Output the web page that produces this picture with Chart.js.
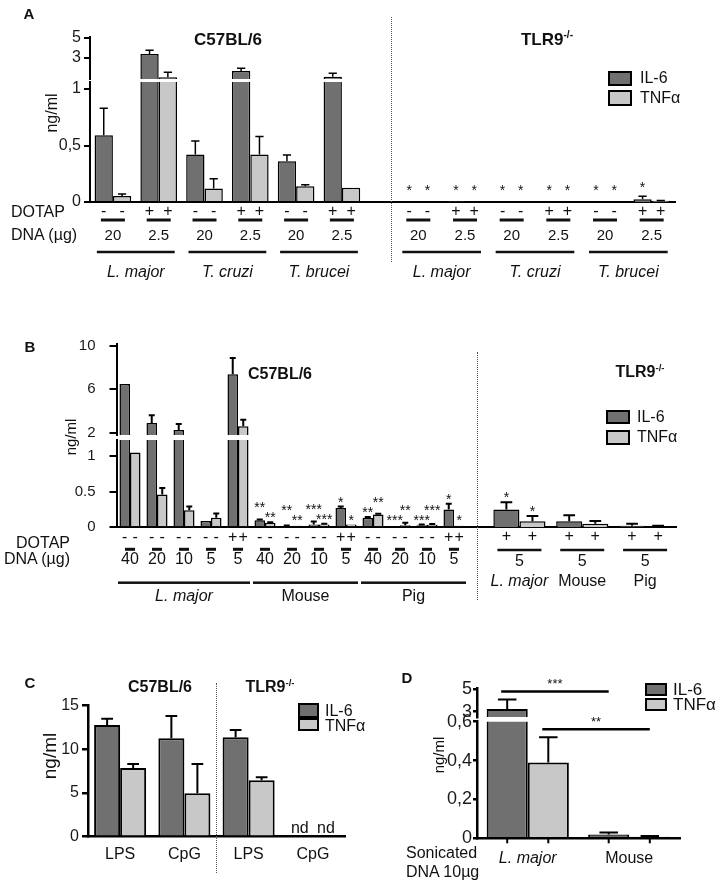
<!DOCTYPE html>
<html><head><meta charset="utf-8"><title>IL-6 / TNFα responses to parasite DNA</title>
<script src="https://cdn.jsdelivr.net/npm/chart.js@4.4.1/dist/chart.umd.min.js"></script>
<style>
html,body{margin:0;padding:0;background:#fff;}
#fig{position:relative;width:720px;height:886px;overflow:hidden;font-family:"Liberation Sans",Arial,Helvetica,sans-serif;color:#111;}
#fig canvas{position:absolute;left:0;top:0;}
.t,.tl,.tr,.rot{position:absolute;white-space:nowrap;line-height:1;}
.t{transform:translate(-50%,-50%);}
.tl{transform:translate(0,-50%);}
.tr{transform:translate(-100%,-50%);}
.rot{transform:translate(-50%,-50%) rotate(-90deg);}
.b{font-weight:bold;}
.sw{position:absolute;box-sizing:border-box;border:2.5px solid #000;}
.vd{position:absolute;width:0;border-left:1.3px dotted #555;}
sup{font-size:0.6em;vertical-align:0.6em;line-height:0;}
</style></head><body>
<div id="fig">
<canvas id="aUp" width="720" height="886"></canvas>
<canvas id="aLoL" width="720" height="886"></canvas>
<canvas id="aLoR" width="720" height="886"></canvas>
<canvas id="bUp" width="720" height="886"></canvas>
<canvas id="bLoL" width="720" height="886"></canvas>
<canvas id="bLoR" width="720" height="886"></canvas>
<canvas id="cCh" width="720" height="886"></canvas>
<canvas id="dUp" width="720" height="886"></canvas>
<canvas id="dLo" width="720" height="886"></canvas>

<!-- Panel A text -->
<div class="t b" style="left:29px;top:13px;font-size:15px">A</div>
<div class="t b" style="left:228px;top:39px;font-size:17px">C57BL/6</div>
<div class="t b" style="left:547px;top:39px;font-size:17px">TLR9<sup>-/-</sup></div>
<div class="rot" style="left:52px;top:113px;font-size:16px">ng/ml</div>
<div class="tl" style="left:11px;top:212px;font-size:16px">DOTAP</div>
<div class="tl" style="left:11px;top:235px;font-size:16px">DNA (µg)</div>
<div class="sw" style="left:608px;top:71px;width:24px;height:15px;background:#707070"></div>
<div class="sw" style="left:608px;top:90px;width:24px;height:16px;background:#c8c8c8"></div>
<div class="tl" style="left:640px;top:78px;font-size:16px">IL-6</div>
<div class="tl" style="left:640px;top:98px;font-size:16px">TNFα</div>
<div class="vd" style="left:391px;top:17px;height:245px"></div>

<!-- Panel B text -->
<div class="t b" style="left:30px;top:346px;font-size:15px">B</div>
<div class="t b" style="left:280px;top:374px;font-size:16px">C57BL/6</div>
<div class="t b" style="left:640px;top:372px;font-size:16px">TLR9<sup>-/-</sup></div>
<div class="rot" style="left:70px;top:437px;font-size:15px">ng/ml</div>
<div class="tr" style="left:70px;top:543px;font-size:16px">DOTAP</div>
<div class="tr" style="left:70px;top:559px;font-size:16px">DNA (µg)</div>
<div class="sw" style="left:606px;top:410px;width:24px;height:14px;background:#707070"></div>
<div class="sw" style="left:606px;top:430px;width:24px;height:15px;background:#c8c8c8"></div>
<div class="tl" style="left:637px;top:417px;font-size:16px">IL-6</div>
<div class="tl" style="left:637px;top:437px;font-size:16px">TNFα</div>
<div class="vd" style="left:477px;top:352px;height:248px"></div>

<!-- Panel C text -->
<div class="t b" style="left:30px;top:682px;font-size:15px">C</div>
<div class="t b" style="left:160px;top:687px;font-size:16px">C57BL/6</div>
<div class="t b" style="left:270px;top:687px;font-size:16px">TLR9<sup>-/-</sup></div>
<div class="rot" style="left:49px;top:756px;font-size:19px">ng/ml</div>
<div class="sw" style="left:298px;top:703px;width:21px;height:15px;background:#707070"></div>
<div class="sw" style="left:298px;top:718px;width:21px;height:13px;background:#c8c8c8"></div>
<div class="tl" style="left:325px;top:711px;font-size:16px">IL-6</div>
<div class="tl" style="left:325px;top:726px;font-size:16px">TNFα</div>
<div class="vd" style="left:216px;top:683px;height:190px"></div>

<!-- Panel D text -->
<div class="t b" style="left:407px;top:677px;font-size:15px">D</div>
<div class="rot" style="left:438px;top:755px;font-size:15px">ng/ml</div>
<div class="tl" style="left:406px;top:853px;font-size:16px">Sonicated</div>
<div class="tl" style="left:406px;top:872px;font-size:16px">DNA 10µg</div>
<div class="sw" style="left:645px;top:683px;width:22px;height:13px;background:#707070"></div>
<div class="sw" style="left:645px;top:698px;width:22px;height:13px;background:#c8c8c8"></div>
<div class="tl" style="left:673px;top:689px;font-size:17px">IL-6</div>
<div class="tl" style="left:673px;top:704px;font-size:17px">TNFα</div>
</div>

<script>
// ================= DATA =================
// ---- Panel A: 20 µg DNA without DOTAP / 2.5 µg DNA with DOTAP ----
const A_dotap = ['-', '+', '-', '+', '-', '+'];
const A_dna = ['20', '2.5', '20', '2.5', '20', '2.5'];
const A_species = ['L. major', 'L. major', 'T. cruzi', 'T. cruzi', 'T. brucei', 'T. brucei'];
const A_wt_il6 = [0.59, 3.4, 0.42, 1.7, 0.36, 1.13];
const A_wt_il6_err = [0.24, 0.37, 0.12, 0.27, 0.055, 0.34];
const A_wt_tnf = [0.053, 1.08, 0.12, 0.42, 0.14, 0.127];
const A_wt_tnf_err = [0.018, 0.49, 0.085, 0.16, 0.012, 0];
const A_ko_il6 = [0, 0.006, 0, 0, 0, 0.024];
const A_ko_il6_err = [0, 0, 0, 0, 0, 0.026];
const A_ko_tnf = [0, 0, 0, 0, 0, 0.01];
const A_ko_tnf_err = [0, 0, 0, 0, 0, 0.004];
const A_ko_il6_sig = ['*', '*', '*', '*', '*', '*'];
const A_ko_tnf_sig = ['*', '*', '*', '*', '*', ''];
const A_ticks_upper = [3, 5];
const A_ticks_lower = [0, 0.5, 1];

// ---- Panel B ----
const B_wt_dotap = ['-', '-', '-', '-', '+', '-', '-', '-', '+', '-', '-', '-', '+'];
const B_wt_dna = ['40', '20', '10', '5', '5', '40', '20', '10', '5', '40', '20', '10', '5'];
const B_wt_species = ['L. major', 'L. major', 'L. major', 'L. major', 'L. major', 'Mouse', 'Mouse', 'Mouse', 'Mouse', 'Pig', 'Pig', 'Pig', 'Pig'];
const B_wt_il6 = [6.5, 2.9, 2.25, 0.088, 7.4, 0.10, 0.015, 0.04, 0.27, 0.134, 0.01, 0.03, 0.25];
const B_wt_il6_err = [0, 0.7, 0.55, 0, 1.5, 0.01, 0.01, 0.04, 0.02, 0.01, 0, 0.01, 0.08];
const B_wt_tnf = [1.05, 0.46, 0.24, 0.135, 2.6, 0.065, 0.02, 0.04, 0.04, 0.18, 0.03, 0.035, 0.02];
const B_wt_tnf_err = [0, 0.09, 0.05, 0.06, 0.6, 0.005, 0, 0.01, 0, 0.01, 0.035, 0.01, 0];
const B_wt_il6_sig = ['', '', '', '', '', '**', '**', '***', '*', '**', '***', '***', '*'];
const B_wt_tnf_sig = ['', '', '', '', '', '**', '**', '***', '*', '**', '**', '***', '*'];
const B_ko_dotap = ['+', '+', '+'];
const B_ko_dna = ['5', '5', '5'];
const B_ko_species = ['L. major', 'Mouse', 'Pig'];
const B_ko_il6 = [0.25, 0.085, 0.02];
const B_ko_il6_err = [0.10, 0.085, 0.03];
const B_ko_tnf = [0.085, 0.05, 0.01];
const B_ko_tnf_err = [0.075, 0.04, 0.01];
const B_ko_il6_sig = ['*', '', ''];
const B_ko_tnf_sig = ['*', '', ''];
const B_ticks_upper = [2, 6, 10];
const B_ticks_lower = [0, 0.5, 1];

// ---- Panel C ----
const C_categories = ['LPS', 'CpG', 'LPS', 'CpG'];
const C_il6 = [12.8, 11.27, 11.38, null];
const C_il6_err = [0.7, 2.55, 0.85, null];
const C_tnf = [7.87, 4.97, 6.45, null];
const C_tnf_err = [0.45, 3.35, 0.37, null];
const C_ticks = [0, 5, 10, 15];

// ---- Panel D ----
const D_categories = ['L. major', 'Mouse'];
const D_il6 = [3.24, 0.02];
const D_il6_err = [0.86, 0.01];
const D_tnf = [0.39, 0.008];
const D_tnf_err = [0.13, 0.004];
const D_comparisons = [['IL-6', 'L. major', 'Mouse', '***'], ['TNFα', 'L. major', 'Mouse', '**']];
const D_ticks_upper = [3, 5];
const D_ticks_lower = [0, 0.2, 0.4, 0.6];

// ================= STYLE =================
const FONT = '"Liberation Sans", Arial, Helvetica, sans-serif';
const IL6_COLOR = '#707070';
const TNF_COLOR = '#c8c8c8';
const AXIS_W = 60;   // reserved width for y tick labels
const AXIS_H = 40;   // reserved height for x tick labels
Chart.defaults.font.family = FONT;
Chart.defaults.color = '#111';
const comma = v => String(v).replace('.', ',');
const isLatin = s => /^[A-Z]\. /.test(s);

function runs(arr) {
  const r = [];
  arr.forEach((v, i) => {
    if (r.length && r[r.length - 1].name === v) r[r.length - 1].end = i;
    else r.push({ name: v, start: i, end: i });
  });
  return r;
}

const DECO = {};
const decoPlugin = {
  id: 'deco',
  afterDatasetsDraw(chart) {
    const cfg = DECO[chart.canvas.id];
    if (!cfg) return;
    const ctx = chart.ctx, area = chart.chartArea, ys = chart.scales.y, xs = chart.scales.x;
    const metas = chart.data.datasets.map((ds, di) => chart.getDatasetMeta(di));
    // error bars (one-sided, upward)
    ctx.save();
    ctx.beginPath();
    ctx.rect(area.left - 30, area.top, area.right - area.left + 60, area.bottom - area.top);
    ctx.clip();
    ctx.strokeStyle = '#000';
    ctx.lineWidth = cfg.errW || 1.5;
    chart.data.datasets.forEach((ds, di) => {
      if (!ds.err) return;
      metas[di].data.forEach((bar, i) => {
        const v = ds.data[i], e = ds.err[i];
        if (v == null || !e) return;
        const y0 = ys.getPixelForValue(v), y1 = ys.getPixelForValue(v + e);
        const c = Math.max(6, bar.width * 0.45) / 2;
        ctx.beginPath();
        ctx.moveTo(bar.x, y0); ctx.lineTo(bar.x, y1);
        ctx.moveTo(bar.x - c, y1); ctx.lineTo(bar.x + c, y1);
        ctx.stroke();
      });
    });
    ctx.restore();

    ctx.save();
    ctx.fillStyle = '#111';
    ctx.strokeStyle = '#000';
    ctx.textAlign = 'center';
    ctx.textBaseline = 'middle';
    // significance stars above bars
    if (cfg.stars) {
      const st = cfg.stars;
      ctx.font = st.fs + 'px ' + FONT;
      const base = ys.getPixelForValue(0);
      const n = chart.data.labels.length;
      for (let i = 0; i < n; i++) {
        const items = [];
        chart.data.datasets.forEach((ds, di) => {
          const s = ds.sig && ds.sig[i];
          if (!s) return;
          const bar = metas[di].data[i];
          const top = (ds.data[i] || 0) + ((ds.err && ds.err[i]) || 0);
          const y = Math.min(ys.getPixelForValue(top) - st.off, base - st.minOff);
          items.push({ s, x: bar.x, y, w: ctx.measureText(s).width, top });
        });
        if (items.length === 2) {
          const [a, b] = items;
          if (Math.abs(a.x - b.x) < (a.w + b.w) / 2) {
            const hi = a.top >= b.top ? a : b, lo = hi === a ? b : a;
            hi.y = Math.min(hi.y, lo.y - st.gap);
          }
        }
        ctx.textBaseline = 'alphabetic';
        items.forEach(it => ctx.fillText(it.s, it.x, it.y + 0.58 * st.fs));
        ctx.textBaseline = 'middle';
      }
    }
    // "nd" (not detected) markers
    if (cfg.nd) {
      ctx.font = cfg.nd.fs + 'px ' + FONT;
      const base = ys.getPixelForValue(0);
      chart.data.datasets.forEach((ds, di) => {
        metas[di].data.forEach((bar, i) => {
          if (ds.data[i] == null) ctx.fillText('nd', bar.x, base - cfg.nd.off);
        });
      });
    }
    // comparison brackets
    if (cfg.sig) {
      cfg.sig.forEach(([ser, from, to, label]) => {
        const di = chart.data.datasets.findIndex(d => d.label === ser);
        const i0 = chart.data.labels.indexOf(from), i1 = chart.data.labels.indexOf(to);
        const ds = chart.data.datasets[di];
        const top = Math.max(ds.data[i0] + ds.err[i0], ds.data[i1] + ds.err[i1]);
        if (top < ys.min || top > ys.max) return;
        const y = ys.getPixelForValue(top) - 8;
        const x0 = metas[di].data[i0].x - 6, x1 = metas[di].data[i1].x;
        ctx.lineWidth = 2.5;
        ctx.beginPath(); ctx.moveTo(x0, y); ctx.lineTo(x1, y); ctx.stroke();
        ctx.font = '13px ' + FONT;
        ctx.textBaseline = 'alphabetic';
        ctx.fillText(label, (x0 + x1) / 2, y - 3);
        ctx.textBaseline = 'middle';
      });
    }
    // small tick marks under each bar
    if (cfg.barTicks) {
      ctx.lineWidth = 2;
      metas.forEach(m => m.data.forEach(bar => {
        ctx.beginPath(); ctx.moveTo(bar.x, area.bottom); ctx.lineTo(bar.x, area.bottom + cfg.barTicks); ctx.stroke();
      }));
    }
    // multi-row x labels (DOTAP signs, DNA amounts, species)
    if (cfg.xl) {
      const xl = cfg.xl;
      const gx = i => xs.getPixelForValue(i);
      const nG = xl.nums.t.length;
      ctx.font = xl.signs.fs + 'px ' + FONT;
      metas.forEach(m => m.data.forEach((bar, i) => ctx.fillText(xl.signs.t[i], bar.x, xl.signs.y)));
      for (let i = 0; i < nG; i++) {
        ctx.fillRect(gx(i) - xl.glines.w / 2, xl.glines.y - xl.glines.lw / 2, xl.glines.w, xl.glines.lw);
      }
      ctx.font = xl.nums.fs + 'px ' + FONT;
      for (let i = 0; i < nG; i++) ctx.fillText(xl.nums.t[i], gx(i), xl.nums.y);
      if (xl.spans) {
        runs(xl.spans.t).forEach(r => {
          const a = gx(r.start) - xl.spans.ext, b = gx(r.end) + xl.spans.ext;
          ctx.fillRect(a, xl.spans.y - xl.spans.lw / 2, b - a, xl.spans.lw);
          ctx.font = (isLatin(r.name) ? 'italic ' : '') + xl.names.fs + 'px ' + FONT;
          ctx.fillText(r.name, (gx(r.start) + gx(r.end)) / 2, xl.names.y);
        });
      } else {
        xl.names.t.forEach((nm, i) => {
          ctx.font = (isLatin(nm) ? 'italic ' : '') + xl.names.fs + 'px ' + FONT;
          ctx.fillText(nm, gx(i), xl.names.y);
        });
      }
    }
    ctx.restore();
  }
};

function barChart(id, o) {
  DECO[id] = o.deco || null;
  const a = o.area;
  const yTicks = o.y.ticks || [];
  const showX = o.xAxis !== false, showY = o.yAxis !== false;
  return new Chart(document.getElementById(id), {
    type: 'bar',
    data: {
      labels: o.labels,
      datasets: o.sets.map(s => ({
        label: s.label, data: s.data, err: s.err, sig: s.sig,
        backgroundColor: s.color, borderColor: '#000', borderWidth: o.bw || 1.5,
        borderSkipped: 'start', categoryPercentage: o.cat, barPercentage: 1, clip: 0
      }))
    },
    options: {
      responsive: false, animation: false, devicePixelRatio: 1, events: [],
      layout: { padding: {
        left: a.l - (showY ? AXIS_W : 0), top: a.t,
        right: 720 - a.r, bottom: 886 - a.b - (showX ? AXIS_H : 0) } },
      plugins: { legend: { display: false }, tooltip: { enabled: false } },
      scales: {
        x: {
          display: showX,
          grid: { display: false, drawTicks: false },
          border: { display: true, color: '#000', width: o.axisW || 2 },
          ticks: o.xTicks ? Object.assign({ display: true, color: '#111', autoSkip: false, maxRotation: 0, minRotation: 0 }, o.xTicks) : { display: false },
          afterFit: s => { s.height = showX ? AXIS_H : 0; }
        },
        y: {
          display: showY,
          min: o.y.min, max: o.y.max,
          grid: { display: true, drawOnChartArea: false, drawTicks: true, tickLength: o.y.tick || 6, color: '#000', lineWidth: o.axisW || 2 },
          border: { display: true, color: '#000', width: o.axisW || 2 },
          ticks: { color: '#1a1a1a', padding: o.y.pad == null ? 3 : o.y.pad, font: { size: o.y.fs || 15 }, autoSkip: false,
                   callback: v => (o.y.fmt ? o.y.fmt(v) : String(v)) },
          afterBuildTicks: s => { s.ticks = yTicks.map(v => ({ value: v })); },
          afterFit: s => { s.width = showY ? AXIS_W : 0; }
        }
      }
    },
    plugins: [decoPlugin]
  });
}

// ================= PANEL A =================
const A_labels = A_species.map((s, i) => s + ' ' + A_dna[i] + ' µg ' + A_dotap[i]);
const A_wt_sets = [
  { label: 'IL-6', data: A_wt_il6, err: A_wt_il6_err, color: IL6_COLOR },
  { label: 'TNFα', data: A_wt_tnf, err: A_wt_tnf_err, color: TNF_COLOR }
];
const A_xl = (dotap, dna, sp) => ({
  signs: { y: 212, fs: 16, t: dotap }, glines: { y: 220, w: 24, lw: 3 },
  nums: { y: 236, fs: 15, t: dna }, spans: { y: 252, lw: 2.5, ext: 16, t: sp }, names: { y: 273, fs: 16 }
});
barChart('aUp', {
  area: { l: 90, t: 37, r: 410.6, b: 79 }, labels: A_labels.concat(['']), sets: A_wt_sets, cat: 0.8,
  xAxis: false, y: { min: 0.9, max: 5.1, ticks: A_ticks_upper, fs: 16, fmt: comma }, deco: { errW: 1.5 }
});
barChart('aLoL', {
  area: { l: 90, t: 82, r: 410.6, b: 202 }, labels: A_labels.concat(['']), sets: A_wt_sets, cat: 0.8,
  y: { min: 0, max: 1.062, ticks: A_ticks_lower, fs: 16, fmt: comma },
  deco: { errW: 1.5, xl: A_xl(A_dotap, A_dna, A_species) }
});
barChart('aLoR', {
  area: { l: 395, t: 82, r: 675, b: 202 }, labels: A_labels,
  sets: [
    { label: 'IL-6', data: A_ko_il6, err: A_ko_il6_err, sig: A_ko_il6_sig, color: IL6_COLOR },
    { label: 'TNFα', data: A_ko_tnf, err: A_ko_tnf_err, sig: A_ko_tnf_sig, color: TNF_COLOR }
  ], cat: 0.78, yAxis: false,
  y: { min: 0, max: 1.062, ticks: A_ticks_lower },
  deco: { errW: 1.5, stars: { fs: 14, off: 12, minOff: 15, gap: 9 }, xl: A_xl(A_dotap, A_dna, A_species) }
});

// ================= PANEL B =================
const B_wt_labels = B_wt_species.map((s, i) => s + ' ' + B_wt_dna[i] + ' µg ' + B_wt_dotap[i]);
const B_wt_sets = [
  { label: 'IL-6', data: B_wt_il6, err: B_wt_il6_err, sig: B_wt_il6_sig, color: IL6_COLOR },
  { label: 'TNFα', data: B_wt_tnf, err: B_wt_tnf_err, sig: B_wt_tnf_sig, color: TNF_COLOR }
];
barChart('bUp', {
  area: { l: 116.5, t: 344, r: 494.5, b: 435 }, labels: B_wt_labels.concat(['']), sets: B_wt_sets, cat: 0.78,
  xAxis: false, y: { min: 1.79, max: 10.18, ticks: B_ticks_upper, fs: 15, tick: 7, pad: 14 }, deco: { errW: 2 }
});
barChart('bLoL', {
  area: { l: 116.5, t: 440, r: 494.5, b: 527.3 }, labels: B_wt_labels.concat(['']), sets: B_wt_sets, cat: 0.78,
  y: { min: 0, max: 1.224, ticks: B_ticks_lower, fs: 15, tick: 7, pad: 14 },
  deco: {
    errW: 2, stars: { fs: 14, off: 8, minOff: 10, gap: 10 },
    xl: { signs: { y: 537.7, fs: 16, t: B_wt_dotap }, glines: { y: 549.3, w: 10, lw: 3 },
          nums: { y: 560, fs: 16, t: B_wt_dna }, spans: { y: 582.7, lw: 2.5, ext: 12, t: B_wt_species },
          names: { y: 596.7, fs: 16 } }
  }
});
barChart('bLoR', {
  area: { l: 488, t: 440, r: 676.5, b: 527.3 },
  labels: B_ko_species.map((s, i) => s + ' ' + B_ko_dna[i] + ' µg ' + B_ko_dotap[i]),
  sets: [
    { label: 'IL-6', data: B_ko_il6, err: B_ko_il6_err, sig: B_ko_il6_sig, color: IL6_COLOR },
    { label: 'TNFα', data: B_ko_tnf, err: B_ko_tnf_err, sig: B_ko_tnf_sig, color: TNF_COLOR }
  ], cat: 0.83, yAxis: false,
  y: { min: 0, max: 1.224, ticks: B_ticks_lower },
  deco: {
    errW: 2, stars: { fs: 14, off: 8, minOff: 10, gap: 10 },
    xl: { signs: { y: 536.7, fs: 16, t: B_ko_dotap }, glines: { y: 550, w: 44, lw: 2.5 },
          nums: { y: 561.7, fs: 16, t: B_ko_dna }, names: { y: 581.7, fs: 16, t: B_ko_species } }
  }
});

// ================= PANEL C =================
barChart('cCh', {
  area: { l: 88, t: 705.7, r: 345, b: 836.7 }, labels: C_categories,
  sets: [
    { label: 'IL-6', data: C_il6, err: C_il6_err, color: IL6_COLOR },
    { label: 'TNFα', data: C_tnf, err: C_tnf_err, color: TNF_COLOR }
  ], cat: 0.81, bw: 2, axisW: 2.5,
  xTicks: { padding: 8, font: { size: 16 } },
  y: { min: 0, max: 15, ticks: C_ticks, fs: 16, tick: 6, pad: 3 },
  deco: { errW: 2, nd: { fs: 16, off: 8 } }
});

// ================= PANEL D =================
const D_sets = [
  { label: 'IL-6', data: D_il6, err: D_il6_err, color: IL6_COLOR },
  { label: 'TNFα', data: D_tnf, err: D_tnf_err, color: TNF_COLOR }
];
barChart('dUp', {
  area: { l: 477, t: 688, r: 680, b: 717 }, labels: D_categories, sets: D_sets, cat: 0.81, bw: 2, axisW: 2.5,
  xAxis: false, y: { min: 2.53, max: 5.12, ticks: D_ticks_upper, fs: 18, tick: 4, pad: 1, fmt: comma },
  deco: { errW: 2, sig: D_comparisons }
});
barChart('dLo', {
  area: { l: 477, t: 721.7, r: 680, b: 838.3 }, labels: D_categories, sets: D_sets, cat: 0.81, bw: 2, axisW: 2.5,
  xTicks: { padding: 11, font: c => ({ size: 16, style: isLatin(D_categories[c.index] || '') ? 'italic' : 'normal' }) },
  y: { min: 0, max: 0.6, ticks: D_ticks_lower, fs: 18, tick: 4, pad: 1, fmt: comma },
  deco: { errW: 2, sig: D_comparisons, barTicks: 5 }
});
</script>
</body></html>
